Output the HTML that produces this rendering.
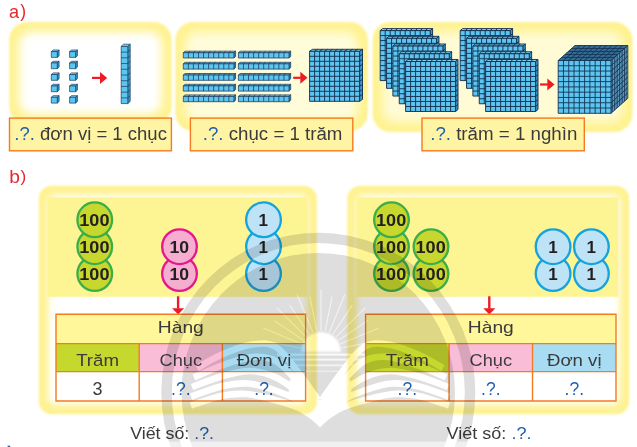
<!DOCTYPE html>
<html lang="vi"><head><meta charset="utf-8"><title>a) b)</title>
<style>html,body{margin:0;padding:0;background:#fff}body{width:637px;height:447px;overflow:hidden}svg{display:block}text{font-family:"Liberation Sans",sans-serif}</style></head><body>
<svg width="637" height="447" viewBox="0 0 637 447">
<defs>
<filter id="b1" x="-10%" y="-10%" width="120%" height="120%"><feGaussianBlur stdDeviation="1.3"/></filter>
<filter id="b2" x="-20%" y="-20%" width="140%" height="140%"><feGaussianBlur stdDeviation="2.2"/></filter>
<filter id="b3" x="-20%" y="-20%" width="140%" height="140%"><feGaussianBlur stdDeviation="3.3"/></filter>
<filter id="b6" x="-30%" y="-30%" width="160%" height="160%"><feGaussianBlur stdDeviation="7"/></filter>
<filter id="b5" x="-30%" y="-30%" width="160%" height="160%"><feGaussianBlur stdDeviation="5"/></filter>
<filter id="b4" x="-30%" y="-30%" width="160%" height="160%"><feGaussianBlur stdDeviation="4"/></filter>
</defs>
<rect width="637" height="447" fill="#fff"/>
<text x="9" y="18.3" font-size="18.2" fill="#e8262d">a</text><text x="20.2" y="17.3" font-size="17.5" fill="#e8262d">)</text>
<rect x="9.2" y="22" width="162.4" height="102" rx="18" fill="#fff290" filter="url(#b1)"/>
<rect x="19.2" y="32" width="142.4" height="82" rx="12" fill="#ffffff" filter="url(#b5)"/>
<rect x="175.4" y="22" width="192.4" height="109" rx="18" fill="#fff290" filter="url(#b1)"/>
<rect x="185.4" y="32" width="172.4" height="89" rx="12" fill="#fffcda" filter="url(#b5)"/>
<rect x="372.6" y="22" width="259.8" height="110" rx="18" fill="#fff290" filter="url(#b1)"/>
<rect x="382.6" y="32" width="239.8" height="90" rx="12" fill="#fffbd4" filter="url(#b5)"/>
<g stroke="#19395c" stroke-width="0.7" stroke-linejoin="round"><path d="M51.3 51.6 l1.8 -1.6 h6 l-1.8 1.6 z" fill="#8dd8f6"/><path d="M57.3 51.6 l1.8 -1.6 v5.8 l-1.8 1.6 z" fill="#3a9fd0"/><rect x="51.3" y="51.6" width="6" height="5.8" fill="#5cc6f1"/></g>
<g stroke="#19395c" stroke-width="0.7" stroke-linejoin="round"><path d="M51.3 62.9 l1.8 -1.6 h6 l-1.8 1.6 z" fill="#8dd8f6"/><path d="M57.3 62.9 l1.8 -1.6 v5.8 l-1.8 1.6 z" fill="#3a9fd0"/><rect x="51.3" y="62.9" width="6" height="5.8" fill="#5cc6f1"/></g>
<g stroke="#19395c" stroke-width="0.7" stroke-linejoin="round"><path d="M51.3 74.5 l1.8 -1.6 h6 l-1.8 1.6 z" fill="#8dd8f6"/><path d="M57.3 74.5 l1.8 -1.6 v5.8 l-1.8 1.6 z" fill="#3a9fd0"/><rect x="51.3" y="74.5" width="6" height="5.8" fill="#5cc6f1"/></g>
<g stroke="#19395c" stroke-width="0.7" stroke-linejoin="round"><path d="M51.3 85.9 l1.8 -1.6 h6 l-1.8 1.6 z" fill="#8dd8f6"/><path d="M57.3 85.9 l1.8 -1.6 v5.8 l-1.8 1.6 z" fill="#3a9fd0"/><rect x="51.3" y="85.9" width="6" height="5.8" fill="#5cc6f1"/></g>
<g stroke="#19395c" stroke-width="0.7" stroke-linejoin="round"><path d="M51.3 97.3 l1.8 -1.6 h6 l-1.8 1.6 z" fill="#8dd8f6"/><path d="M57.3 97.3 l1.8 -1.6 v5.8 l-1.8 1.6 z" fill="#3a9fd0"/><rect x="51.3" y="97.3" width="6" height="5.8" fill="#5cc6f1"/></g>
<g stroke="#19395c" stroke-width="0.7" stroke-linejoin="round"><path d="M69.6 51.6 l1.8 -1.6 h6 l-1.8 1.6 z" fill="#8dd8f6"/><path d="M75.6 51.6 l1.8 -1.6 v5.8 l-1.8 1.6 z" fill="#3a9fd0"/><rect x="69.6" y="51.6" width="6" height="5.8" fill="#5cc6f1"/></g>
<g stroke="#19395c" stroke-width="0.7" stroke-linejoin="round"><path d="M69.6 62.9 l1.8 -1.6 h6 l-1.8 1.6 z" fill="#8dd8f6"/><path d="M75.6 62.9 l1.8 -1.6 v5.8 l-1.8 1.6 z" fill="#3a9fd0"/><rect x="69.6" y="62.9" width="6" height="5.8" fill="#5cc6f1"/></g>
<g stroke="#19395c" stroke-width="0.7" stroke-linejoin="round"><path d="M69.6 74.5 l1.8 -1.6 h6 l-1.8 1.6 z" fill="#8dd8f6"/><path d="M75.6 74.5 l1.8 -1.6 v5.8 l-1.8 1.6 z" fill="#3a9fd0"/><rect x="69.6" y="74.5" width="6" height="5.8" fill="#5cc6f1"/></g>
<g stroke="#19395c" stroke-width="0.7" stroke-linejoin="round"><path d="M69.6 85.9 l1.8 -1.6 h6 l-1.8 1.6 z" fill="#8dd8f6"/><path d="M75.6 85.9 l1.8 -1.6 v5.8 l-1.8 1.6 z" fill="#3a9fd0"/><rect x="69.6" y="85.9" width="6" height="5.8" fill="#5cc6f1"/></g>
<g stroke="#19395c" stroke-width="0.7" stroke-linejoin="round"><path d="M69.6 97.3 l1.8 -1.6 h6 l-1.8 1.6 z" fill="#8dd8f6"/><path d="M75.6 97.3 l1.8 -1.6 v5.8 l-1.8 1.6 z" fill="#3a9fd0"/><rect x="69.6" y="97.3" width="6" height="5.8" fill="#5cc6f1"/></g>
<path d="M92 77.9 H100.5" stroke="#ed1c24" stroke-width="2.2" fill="none"/><path d="M107.2 77.9 L100 71.9 L100 83.9 z" fill="#ed1c24"/>
<g stroke="#19395c" stroke-width="0.7" stroke-linejoin="round"><path d="M121.2 46.4 l2.4 -2.2 h6.6 l-2.4 2.2 z" fill="#8dd8f6"/><path d="M127.8 46.4 l2.4 -2.2 v57.2 l-2.4 2.2 z" fill="#3a9fd0"/><rect x="121.2" y="46.4" width="6.6" height="57.2" fill="#5cc6f1"/><path d="M121.2 52.12 h6.6 l2.4 -2.2M121.2 57.84 h6.6 l2.4 -2.2M121.2 63.56 h6.6 l2.4 -2.2M121.2 69.28 h6.6 l2.4 -2.2M121.2 75 h6.6 l2.4 -2.2M121.2 80.72 h6.6 l2.4 -2.2M121.2 86.44 h6.6 l2.4 -2.2M121.2 92.16 h6.6 l2.4 -2.2M121.2 97.88 h6.6 l2.4 -2.2" fill="none"/></g>
<g stroke="#19395c" stroke-width="0.75" stroke-linejoin="round"><path d="M183.3 52.7 l1.7 -1.5 h50.6 l-1.7 1.5 z" fill="#8dd8f6"/><path d="M233.9 52.7 l1.7 -1.5 v5.3 l-1.7 1.5 z" fill="#3a9fd0"/><rect x="183.3" y="52.7" width="50.6" height="5.3" fill="#5cc6f1"/><path d="M188.36 58 v-5.3 M188.36 52.7 l1.7 -1.5M193.42 58 v-5.3 M193.42 52.7 l1.7 -1.5M198.48 58 v-5.3 M198.48 52.7 l1.7 -1.5M203.54 58 v-5.3 M203.54 52.7 l1.7 -1.5M208.6 58 v-5.3 M208.6 52.7 l1.7 -1.5M213.66 58 v-5.3 M213.66 52.7 l1.7 -1.5M218.72 58 v-5.3 M218.72 52.7 l1.7 -1.5M223.78 58 v-5.3 M223.78 52.7 l1.7 -1.5M228.84 58 v-5.3 M228.84 52.7 l1.7 -1.5" fill="none"/></g>
<g stroke="#19395c" stroke-width="0.75" stroke-linejoin="round"><path d="M183.3 63.8 l1.7 -1.5 h50.6 l-1.7 1.5 z" fill="#8dd8f6"/><path d="M233.9 63.8 l1.7 -1.5 v5.3 l-1.7 1.5 z" fill="#3a9fd0"/><rect x="183.3" y="63.8" width="50.6" height="5.3" fill="#5cc6f1"/><path d="M188.36 69.1 v-5.3 M188.36 63.8 l1.7 -1.5M193.42 69.1 v-5.3 M193.42 63.8 l1.7 -1.5M198.48 69.1 v-5.3 M198.48 63.8 l1.7 -1.5M203.54 69.1 v-5.3 M203.54 63.8 l1.7 -1.5M208.6 69.1 v-5.3 M208.6 63.8 l1.7 -1.5M213.66 69.1 v-5.3 M213.66 63.8 l1.7 -1.5M218.72 69.1 v-5.3 M218.72 63.8 l1.7 -1.5M223.78 69.1 v-5.3 M223.78 63.8 l1.7 -1.5M228.84 69.1 v-5.3 M228.84 63.8 l1.7 -1.5" fill="none"/></g>
<g stroke="#19395c" stroke-width="0.75" stroke-linejoin="round"><path d="M183.3 75 l1.7 -1.5 h50.6 l-1.7 1.5 z" fill="#8dd8f6"/><path d="M233.9 75 l1.7 -1.5 v5.3 l-1.7 1.5 z" fill="#3a9fd0"/><rect x="183.3" y="75" width="50.6" height="5.3" fill="#5cc6f1"/><path d="M188.36 80.3 v-5.3 M188.36 75 l1.7 -1.5M193.42 80.3 v-5.3 M193.42 75 l1.7 -1.5M198.48 80.3 v-5.3 M198.48 75 l1.7 -1.5M203.54 80.3 v-5.3 M203.54 75 l1.7 -1.5M208.6 80.3 v-5.3 M208.6 75 l1.7 -1.5M213.66 80.3 v-5.3 M213.66 75 l1.7 -1.5M218.72 80.3 v-5.3 M218.72 75 l1.7 -1.5M223.78 80.3 v-5.3 M223.78 75 l1.7 -1.5M228.84 80.3 v-5.3 M228.84 75 l1.7 -1.5" fill="none"/></g>
<g stroke="#19395c" stroke-width="0.75" stroke-linejoin="round"><path d="M183.3 85.8 l1.7 -1.5 h50.6 l-1.7 1.5 z" fill="#8dd8f6"/><path d="M233.9 85.8 l1.7 -1.5 v5.3 l-1.7 1.5 z" fill="#3a9fd0"/><rect x="183.3" y="85.8" width="50.6" height="5.3" fill="#5cc6f1"/><path d="M188.36 91.1 v-5.3 M188.36 85.8 l1.7 -1.5M193.42 91.1 v-5.3 M193.42 85.8 l1.7 -1.5M198.48 91.1 v-5.3 M198.48 85.8 l1.7 -1.5M203.54 91.1 v-5.3 M203.54 85.8 l1.7 -1.5M208.6 91.1 v-5.3 M208.6 85.8 l1.7 -1.5M213.66 91.1 v-5.3 M213.66 85.8 l1.7 -1.5M218.72 91.1 v-5.3 M218.72 85.8 l1.7 -1.5M223.78 91.1 v-5.3 M223.78 85.8 l1.7 -1.5M228.84 91.1 v-5.3 M228.84 85.8 l1.7 -1.5" fill="none"/></g>
<g stroke="#19395c" stroke-width="0.75" stroke-linejoin="round"><path d="M183.3 96.4 l1.7 -1.5 h50.6 l-1.7 1.5 z" fill="#8dd8f6"/><path d="M233.9 96.4 l1.7 -1.5 v5.3 l-1.7 1.5 z" fill="#3a9fd0"/><rect x="183.3" y="96.4" width="50.6" height="5.3" fill="#5cc6f1"/><path d="M188.36 101.7 v-5.3 M188.36 96.4 l1.7 -1.5M193.42 101.7 v-5.3 M193.42 96.4 l1.7 -1.5M198.48 101.7 v-5.3 M198.48 96.4 l1.7 -1.5M203.54 101.7 v-5.3 M203.54 96.4 l1.7 -1.5M208.6 101.7 v-5.3 M208.6 96.4 l1.7 -1.5M213.66 101.7 v-5.3 M213.66 96.4 l1.7 -1.5M218.72 101.7 v-5.3 M218.72 96.4 l1.7 -1.5M223.78 101.7 v-5.3 M223.78 96.4 l1.7 -1.5M228.84 101.7 v-5.3 M228.84 96.4 l1.7 -1.5" fill="none"/></g>
<g stroke="#19395c" stroke-width="0.75" stroke-linejoin="round"><path d="M238.4 52.7 l1.7 -1.5 h50.6 l-1.7 1.5 z" fill="#8dd8f6"/><path d="M289 52.7 l1.7 -1.5 v5.3 l-1.7 1.5 z" fill="#3a9fd0"/><rect x="238.4" y="52.7" width="50.6" height="5.3" fill="#5cc6f1"/><path d="M243.46 58 v-5.3 M243.46 52.7 l1.7 -1.5M248.52 58 v-5.3 M248.52 52.7 l1.7 -1.5M253.58 58 v-5.3 M253.58 52.7 l1.7 -1.5M258.64 58 v-5.3 M258.64 52.7 l1.7 -1.5M263.7 58 v-5.3 M263.7 52.7 l1.7 -1.5M268.76 58 v-5.3 M268.76 52.7 l1.7 -1.5M273.82 58 v-5.3 M273.82 52.7 l1.7 -1.5M278.88 58 v-5.3 M278.88 52.7 l1.7 -1.5M283.94 58 v-5.3 M283.94 52.7 l1.7 -1.5" fill="none"/></g>
<g stroke="#19395c" stroke-width="0.75" stroke-linejoin="round"><path d="M238.4 63.8 l1.7 -1.5 h50.6 l-1.7 1.5 z" fill="#8dd8f6"/><path d="M289 63.8 l1.7 -1.5 v5.3 l-1.7 1.5 z" fill="#3a9fd0"/><rect x="238.4" y="63.8" width="50.6" height="5.3" fill="#5cc6f1"/><path d="M243.46 69.1 v-5.3 M243.46 63.8 l1.7 -1.5M248.52 69.1 v-5.3 M248.52 63.8 l1.7 -1.5M253.58 69.1 v-5.3 M253.58 63.8 l1.7 -1.5M258.64 69.1 v-5.3 M258.64 63.8 l1.7 -1.5M263.7 69.1 v-5.3 M263.7 63.8 l1.7 -1.5M268.76 69.1 v-5.3 M268.76 63.8 l1.7 -1.5M273.82 69.1 v-5.3 M273.82 63.8 l1.7 -1.5M278.88 69.1 v-5.3 M278.88 63.8 l1.7 -1.5M283.94 69.1 v-5.3 M283.94 63.8 l1.7 -1.5" fill="none"/></g>
<g stroke="#19395c" stroke-width="0.75" stroke-linejoin="round"><path d="M238.4 75 l1.7 -1.5 h50.6 l-1.7 1.5 z" fill="#8dd8f6"/><path d="M289 75 l1.7 -1.5 v5.3 l-1.7 1.5 z" fill="#3a9fd0"/><rect x="238.4" y="75" width="50.6" height="5.3" fill="#5cc6f1"/><path d="M243.46 80.3 v-5.3 M243.46 75 l1.7 -1.5M248.52 80.3 v-5.3 M248.52 75 l1.7 -1.5M253.58 80.3 v-5.3 M253.58 75 l1.7 -1.5M258.64 80.3 v-5.3 M258.64 75 l1.7 -1.5M263.7 80.3 v-5.3 M263.7 75 l1.7 -1.5M268.76 80.3 v-5.3 M268.76 75 l1.7 -1.5M273.82 80.3 v-5.3 M273.82 75 l1.7 -1.5M278.88 80.3 v-5.3 M278.88 75 l1.7 -1.5M283.94 80.3 v-5.3 M283.94 75 l1.7 -1.5" fill="none"/></g>
<g stroke="#19395c" stroke-width="0.75" stroke-linejoin="round"><path d="M238.4 85.8 l1.7 -1.5 h50.6 l-1.7 1.5 z" fill="#8dd8f6"/><path d="M289 85.8 l1.7 -1.5 v5.3 l-1.7 1.5 z" fill="#3a9fd0"/><rect x="238.4" y="85.8" width="50.6" height="5.3" fill="#5cc6f1"/><path d="M243.46 91.1 v-5.3 M243.46 85.8 l1.7 -1.5M248.52 91.1 v-5.3 M248.52 85.8 l1.7 -1.5M253.58 91.1 v-5.3 M253.58 85.8 l1.7 -1.5M258.64 91.1 v-5.3 M258.64 85.8 l1.7 -1.5M263.7 91.1 v-5.3 M263.7 85.8 l1.7 -1.5M268.76 91.1 v-5.3 M268.76 85.8 l1.7 -1.5M273.82 91.1 v-5.3 M273.82 85.8 l1.7 -1.5M278.88 91.1 v-5.3 M278.88 85.8 l1.7 -1.5M283.94 91.1 v-5.3 M283.94 85.8 l1.7 -1.5" fill="none"/></g>
<g stroke="#19395c" stroke-width="0.75" stroke-linejoin="round"><path d="M238.4 96.4 l1.7 -1.5 h50.6 l-1.7 1.5 z" fill="#8dd8f6"/><path d="M289 96.4 l1.7 -1.5 v5.3 l-1.7 1.5 z" fill="#3a9fd0"/><rect x="238.4" y="96.4" width="50.6" height="5.3" fill="#5cc6f1"/><path d="M243.46 101.7 v-5.3 M243.46 96.4 l1.7 -1.5M248.52 101.7 v-5.3 M248.52 96.4 l1.7 -1.5M253.58 101.7 v-5.3 M253.58 96.4 l1.7 -1.5M258.64 101.7 v-5.3 M258.64 96.4 l1.7 -1.5M263.7 101.7 v-5.3 M263.7 96.4 l1.7 -1.5M268.76 101.7 v-5.3 M268.76 96.4 l1.7 -1.5M273.82 101.7 v-5.3 M273.82 96.4 l1.7 -1.5M278.88 101.7 v-5.3 M278.88 96.4 l1.7 -1.5M283.94 101.7 v-5.3 M283.94 96.4 l1.7 -1.5" fill="none"/></g>
<path d="M293.2 77.8 H300.8" stroke="#ed1c24" stroke-width="2.2" fill="none"/><path d="M307.5 77.8 L300.3 71.8 L300.3 83.8 z" fill="#ed1c24"/>
<g stroke="#153252" stroke-width="0.95" stroke-linejoin="round"><path d="M309.6 51.3 l2.9 -2 h50 l-2.9 2 z" fill="#8dd8f6"/><path d="M359.6 51.3 l2.9 -2 v50 l-2.9 2 z" fill="#3a9fd0"/><rect x="309.6" y="51.3" width="50" height="50" fill="#5cc6f1"/><path d="M314.6 101.3 v-50 l2.9 -2M309.6 56.3 h50 l2.9 -2M319.6 101.3 v-50 l2.9 -2M309.6 61.3 h50 l2.9 -2M324.6 101.3 v-50 l2.9 -2M309.6 66.3 h50 l2.9 -2M329.6 101.3 v-50 l2.9 -2M309.6 71.3 h50 l2.9 -2M334.6 101.3 v-50 l2.9 -2M309.6 76.3 h50 l2.9 -2M339.6 101.3 v-50 l2.9 -2M309.6 81.3 h50 l2.9 -2M344.6 101.3 v-50 l2.9 -2M309.6 86.3 h50 l2.9 -2M349.6 101.3 v-50 l2.9 -2M309.6 91.3 h50 l2.9 -2M354.6 101.3 v-50 l2.9 -2M309.6 96.3 h50 l2.9 -2" fill="none"/></g>
<g stroke="#153252" stroke-width="0.95" stroke-linejoin="round"><path d="M380.2 30.6 l2.4 -2 h50 l-2.4 2 z" fill="#8dd8f6"/><path d="M430.2 30.6 l2.4 -2 v50 l-2.4 2 z" fill="#3a9fd0"/><rect x="380.2" y="30.6" width="50" height="50" fill="#5cc6f1"/><path d="M385.2 80.6 v-50 l2.4 -2M380.2 35.6 h50 l2.4 -2M390.2 80.6 v-50 l2.4 -2M380.2 40.6 h50 l2.4 -2M395.2 80.6 v-50 l2.4 -2M380.2 45.6 h50 l2.4 -2M400.2 80.6 v-50 l2.4 -2M380.2 50.6 h50 l2.4 -2M405.2 80.6 v-50 l2.4 -2M380.2 55.6 h50 l2.4 -2M410.2 80.6 v-50 l2.4 -2M380.2 60.6 h50 l2.4 -2M415.2 80.6 v-50 l2.4 -2M380.2 65.6 h50 l2.4 -2M420.2 80.6 v-50 l2.4 -2M380.2 70.6 h50 l2.4 -2M425.2 80.6 v-50 l2.4 -2M380.2 75.6 h50 l2.4 -2" fill="none"/></g>
<g stroke="#153252" stroke-width="0.95" stroke-linejoin="round"><path d="M386.55 38.32 l2.4 -2 h50 l-2.4 2 z" fill="#8dd8f6"/><path d="M436.55 38.32 l2.4 -2 v50 l-2.4 2 z" fill="#3a9fd0"/><rect x="386.55" y="38.32" width="50" height="50" fill="#5cc6f1"/><path d="M391.55 88.32 v-50 l2.4 -2M386.55 43.32 h50 l2.4 -2M396.55 88.32 v-50 l2.4 -2M386.55 48.32 h50 l2.4 -2M401.55 88.32 v-50 l2.4 -2M386.55 53.32 h50 l2.4 -2M406.55 88.32 v-50 l2.4 -2M386.55 58.32 h50 l2.4 -2M411.55 88.32 v-50 l2.4 -2M386.55 63.32 h50 l2.4 -2M416.55 88.32 v-50 l2.4 -2M386.55 68.32 h50 l2.4 -2M421.55 88.32 v-50 l2.4 -2M386.55 73.32 h50 l2.4 -2M426.55 88.32 v-50 l2.4 -2M386.55 78.32 h50 l2.4 -2M431.55 88.32 v-50 l2.4 -2M386.55 83.32 h50 l2.4 -2" fill="none"/></g>
<g stroke="#153252" stroke-width="0.95" stroke-linejoin="round"><path d="M392.9 46.04 l2.4 -2 h50 l-2.4 2 z" fill="#8dd8f6"/><path d="M442.9 46.04 l2.4 -2 v50 l-2.4 2 z" fill="#3a9fd0"/><rect x="392.9" y="46.04" width="50" height="50" fill="#5cc6f1"/><path d="M397.9 96.04 v-50 l2.4 -2M392.9 51.04 h50 l2.4 -2M402.9 96.04 v-50 l2.4 -2M392.9 56.04 h50 l2.4 -2M407.9 96.04 v-50 l2.4 -2M392.9 61.04 h50 l2.4 -2M412.9 96.04 v-50 l2.4 -2M392.9 66.04 h50 l2.4 -2M417.9 96.04 v-50 l2.4 -2M392.9 71.04 h50 l2.4 -2M422.9 96.04 v-50 l2.4 -2M392.9 76.04 h50 l2.4 -2M427.9 96.04 v-50 l2.4 -2M392.9 81.04 h50 l2.4 -2M432.9 96.04 v-50 l2.4 -2M392.9 86.04 h50 l2.4 -2M437.9 96.04 v-50 l2.4 -2M392.9 91.04 h50 l2.4 -2" fill="none"/></g>
<g stroke="#153252" stroke-width="0.95" stroke-linejoin="round"><path d="M399.25 53.76 l2.4 -2 h50 l-2.4 2 z" fill="#8dd8f6"/><path d="M449.25 53.76 l2.4 -2 v50 l-2.4 2 z" fill="#3a9fd0"/><rect x="399.25" y="53.76" width="50" height="50" fill="#5cc6f1"/><path d="M404.25 103.76 v-50 l2.4 -2M399.25 58.76 h50 l2.4 -2M409.25 103.76 v-50 l2.4 -2M399.25 63.76 h50 l2.4 -2M414.25 103.76 v-50 l2.4 -2M399.25 68.76 h50 l2.4 -2M419.25 103.76 v-50 l2.4 -2M399.25 73.76 h50 l2.4 -2M424.25 103.76 v-50 l2.4 -2M399.25 78.76 h50 l2.4 -2M429.25 103.76 v-50 l2.4 -2M399.25 83.76 h50 l2.4 -2M434.25 103.76 v-50 l2.4 -2M399.25 88.76 h50 l2.4 -2M439.25 103.76 v-50 l2.4 -2M399.25 93.76 h50 l2.4 -2M444.25 103.76 v-50 l2.4 -2M399.25 98.76 h50 l2.4 -2" fill="none"/></g>
<g stroke="#153252" stroke-width="0.95" stroke-linejoin="round"><path d="M405.6 61.48 l2.4 -2 h50 l-2.4 2 z" fill="#8dd8f6"/><path d="M455.6 61.48 l2.4 -2 v50 l-2.4 2 z" fill="#3a9fd0"/><rect x="405.6" y="61.48" width="50" height="50" fill="#5cc6f1"/><path d="M410.6 111.48 v-50 l2.4 -2M405.6 66.48 h50 l2.4 -2M415.6 111.48 v-50 l2.4 -2M405.6 71.48 h50 l2.4 -2M420.6 111.48 v-50 l2.4 -2M405.6 76.48 h50 l2.4 -2M425.6 111.48 v-50 l2.4 -2M405.6 81.48 h50 l2.4 -2M430.6 111.48 v-50 l2.4 -2M405.6 86.48 h50 l2.4 -2M435.6 111.48 v-50 l2.4 -2M405.6 91.48 h50 l2.4 -2M440.6 111.48 v-50 l2.4 -2M405.6 96.48 h50 l2.4 -2M445.6 111.48 v-50 l2.4 -2M405.6 101.48 h50 l2.4 -2M450.6 111.48 v-50 l2.4 -2M405.6 106.48 h50 l2.4 -2" fill="none"/></g>
<g stroke="#153252" stroke-width="0.95" stroke-linejoin="round"><path d="M460.2 30.6 l2.4 -2 h50 l-2.4 2 z" fill="#8dd8f6"/><path d="M510.2 30.6 l2.4 -2 v50 l-2.4 2 z" fill="#3a9fd0"/><rect x="460.2" y="30.6" width="50" height="50" fill="#5cc6f1"/><path d="M465.2 80.6 v-50 l2.4 -2M460.2 35.6 h50 l2.4 -2M470.2 80.6 v-50 l2.4 -2M460.2 40.6 h50 l2.4 -2M475.2 80.6 v-50 l2.4 -2M460.2 45.6 h50 l2.4 -2M480.2 80.6 v-50 l2.4 -2M460.2 50.6 h50 l2.4 -2M485.2 80.6 v-50 l2.4 -2M460.2 55.6 h50 l2.4 -2M490.2 80.6 v-50 l2.4 -2M460.2 60.6 h50 l2.4 -2M495.2 80.6 v-50 l2.4 -2M460.2 65.6 h50 l2.4 -2M500.2 80.6 v-50 l2.4 -2M460.2 70.6 h50 l2.4 -2M505.2 80.6 v-50 l2.4 -2M460.2 75.6 h50 l2.4 -2" fill="none"/></g>
<g stroke="#153252" stroke-width="0.95" stroke-linejoin="round"><path d="M466.55 38.32 l2.4 -2 h50 l-2.4 2 z" fill="#8dd8f6"/><path d="M516.55 38.32 l2.4 -2 v50 l-2.4 2 z" fill="#3a9fd0"/><rect x="466.55" y="38.32" width="50" height="50" fill="#5cc6f1"/><path d="M471.55 88.32 v-50 l2.4 -2M466.55 43.32 h50 l2.4 -2M476.55 88.32 v-50 l2.4 -2M466.55 48.32 h50 l2.4 -2M481.55 88.32 v-50 l2.4 -2M466.55 53.32 h50 l2.4 -2M486.55 88.32 v-50 l2.4 -2M466.55 58.32 h50 l2.4 -2M491.55 88.32 v-50 l2.4 -2M466.55 63.32 h50 l2.4 -2M496.55 88.32 v-50 l2.4 -2M466.55 68.32 h50 l2.4 -2M501.55 88.32 v-50 l2.4 -2M466.55 73.32 h50 l2.4 -2M506.55 88.32 v-50 l2.4 -2M466.55 78.32 h50 l2.4 -2M511.55 88.32 v-50 l2.4 -2M466.55 83.32 h50 l2.4 -2" fill="none"/></g>
<g stroke="#153252" stroke-width="0.95" stroke-linejoin="round"><path d="M472.9 46.04 l2.4 -2 h50 l-2.4 2 z" fill="#8dd8f6"/><path d="M522.9 46.04 l2.4 -2 v50 l-2.4 2 z" fill="#3a9fd0"/><rect x="472.9" y="46.04" width="50" height="50" fill="#5cc6f1"/><path d="M477.9 96.04 v-50 l2.4 -2M472.9 51.04 h50 l2.4 -2M482.9 96.04 v-50 l2.4 -2M472.9 56.04 h50 l2.4 -2M487.9 96.04 v-50 l2.4 -2M472.9 61.04 h50 l2.4 -2M492.9 96.04 v-50 l2.4 -2M472.9 66.04 h50 l2.4 -2M497.9 96.04 v-50 l2.4 -2M472.9 71.04 h50 l2.4 -2M502.9 96.04 v-50 l2.4 -2M472.9 76.04 h50 l2.4 -2M507.9 96.04 v-50 l2.4 -2M472.9 81.04 h50 l2.4 -2M512.9 96.04 v-50 l2.4 -2M472.9 86.04 h50 l2.4 -2M517.9 96.04 v-50 l2.4 -2M472.9 91.04 h50 l2.4 -2" fill="none"/></g>
<g stroke="#153252" stroke-width="0.95" stroke-linejoin="round"><path d="M479.25 53.76 l2.4 -2 h50 l-2.4 2 z" fill="#8dd8f6"/><path d="M529.25 53.76 l2.4 -2 v50 l-2.4 2 z" fill="#3a9fd0"/><rect x="479.25" y="53.76" width="50" height="50" fill="#5cc6f1"/><path d="M484.25 103.76 v-50 l2.4 -2M479.25 58.76 h50 l2.4 -2M489.25 103.76 v-50 l2.4 -2M479.25 63.76 h50 l2.4 -2M494.25 103.76 v-50 l2.4 -2M479.25 68.76 h50 l2.4 -2M499.25 103.76 v-50 l2.4 -2M479.25 73.76 h50 l2.4 -2M504.25 103.76 v-50 l2.4 -2M479.25 78.76 h50 l2.4 -2M509.25 103.76 v-50 l2.4 -2M479.25 83.76 h50 l2.4 -2M514.25 103.76 v-50 l2.4 -2M479.25 88.76 h50 l2.4 -2M519.25 103.76 v-50 l2.4 -2M479.25 93.76 h50 l2.4 -2M524.25 103.76 v-50 l2.4 -2M479.25 98.76 h50 l2.4 -2" fill="none"/></g>
<g stroke="#153252" stroke-width="0.95" stroke-linejoin="round"><path d="M485.6 61.48 l2.4 -2 h50 l-2.4 2 z" fill="#8dd8f6"/><path d="M535.6 61.48 l2.4 -2 v50 l-2.4 2 z" fill="#3a9fd0"/><rect x="485.6" y="61.48" width="50" height="50" fill="#5cc6f1"/><path d="M490.6 111.48 v-50 l2.4 -2M485.6 66.48 h50 l2.4 -2M495.6 111.48 v-50 l2.4 -2M485.6 71.48 h50 l2.4 -2M500.6 111.48 v-50 l2.4 -2M485.6 76.48 h50 l2.4 -2M505.6 111.48 v-50 l2.4 -2M485.6 81.48 h50 l2.4 -2M510.6 111.48 v-50 l2.4 -2M485.6 86.48 h50 l2.4 -2M515.6 111.48 v-50 l2.4 -2M485.6 91.48 h50 l2.4 -2M520.6 111.48 v-50 l2.4 -2M485.6 96.48 h50 l2.4 -2M525.6 111.48 v-50 l2.4 -2M485.6 101.48 h50 l2.4 -2M530.6 111.48 v-50 l2.4 -2M485.6 106.48 h50 l2.4 -2" fill="none"/></g>
<path d="M540 84.5 H547.8" stroke="#ed1c24" stroke-width="2.2" fill="none"/><path d="M554.5 84.5 L547.3 78.5 L547.3 90.5 z" fill="#ed1c24"/>
<g stroke="#153252" stroke-width="0.9" stroke-linejoin="round"><path d="M558.2 60.5 l16.8 -15 h52.8 l-16.8 15 z" fill="#4a9ccb"/><path d="M611 60.5 l16.8 -15 v52.8 l-16.8 15 z" fill="#74c0e4"/><rect x="558.2" y="60.5" width="52.8" height="52.8" fill="#5cc6f1"/><path d="M563.48 113.3 v-52.8 l16.8 -15M558.2 65.78 h52.8 l16.8 -15M559.88 59 h52.8 v52.8M568.76 113.3 v-52.8 l16.8 -15M558.2 71.06 h52.8 l16.8 -15M561.56 57.5 h52.8 v52.8M574.04 113.3 v-52.8 l16.8 -15M558.2 76.34 h52.8 l16.8 -15M563.24 56 h52.8 v52.8M579.32 113.3 v-52.8 l16.8 -15M558.2 81.62 h52.8 l16.8 -15M564.92 54.5 h52.8 v52.8M584.6 113.3 v-52.8 l16.8 -15M558.2 86.9 h52.8 l16.8 -15M566.6 53 h52.8 v52.8M589.88 113.3 v-52.8 l16.8 -15M558.2 92.18 h52.8 l16.8 -15M568.28 51.5 h52.8 v52.8M595.16 113.3 v-52.8 l16.8 -15M558.2 97.46 h52.8 l16.8 -15M569.96 50 h52.8 v52.8M600.44 113.3 v-52.8 l16.8 -15M558.2 102.74 h52.8 l16.8 -15M571.64 48.5 h52.8 v52.8M605.72 113.3 v-52.8 l16.8 -15M558.2 108.02 h52.8 l16.8 -15M573.32 47 h52.8 v52.8" fill="none"/></g>
<rect x="9.5" y="118.1" width="161.9" height="32.7" fill="#fff4a3" stroke="#f47b20" stroke-width="1.4"/>
<text x="14.3" y="140.1" font-size="18" fill="#3b3b3b" textLength="152.6" lengthAdjust="spacingAndGlyphs"><tspan fill="#1f5fae">.?.</tspan> đơn vị = 1 chục</text>
<rect x="190.4" y="118.1" width="162.4" height="32.7" fill="#fff4a3" stroke="#f47b20" stroke-width="1.4"/>
<text x="202.8" y="140.1" font-size="18" fill="#3b3b3b" textLength="139.6" lengthAdjust="spacingAndGlyphs"><tspan fill="#1f5fae">.?.</tspan> chục = 1 trăm</text>
<rect x="422" y="118.1" width="162.3" height="32.7" fill="#fff4a3" stroke="#f47b20" stroke-width="1.4"/>
<text x="430.2" y="140.1" font-size="18" fill="#3b3b3b" textLength="147.1" lengthAdjust="spacingAndGlyphs"><tspan fill="#1f5fae">.?.</tspan> trăm = 1 nghìn</text>
<text x="9.2" y="183" font-size="19.2" fill="#e8262d">b</text><text x="20.6" y="182" font-size="17.2" fill="#e8262d">)</text>
<rect x="38.8" y="185.7" width="278" height="228.5" rx="13" fill="#fef292" filter="url(#b1)"/>
<rect x="48.4" y="195.3" width="258.8" height="209.3" rx="7" fill="#fff" filter="url(#b3)"/>
<rect x="47.5" y="197.3" width="260.3" height="99.5" fill="#fdf494"/>
<rect x="347.3" y="185.7" width="281.9" height="228.5" rx="13" fill="#fef292" filter="url(#b1)"/>
<rect x="356.9" y="195.3" width="262.7" height="209.3" rx="7" fill="#fff" filter="url(#b3)"/>
<rect x="356.4" y="197.3" width="261.8" height="99.5" fill="#fdf494"/>
<circle cx="94.75" cy="273.6" r="17.35" fill="#c7d72d" stroke="#3cae49" stroke-width="2.3"/><text x="94.35" y="279.69" text-anchor="middle" font-weight="bold" font-size="17" fill="#231f20" textLength="30.2" lengthAdjust="spacingAndGlyphs">100</text>
<circle cx="94.75" cy="246.7" r="17.35" fill="#c7d72d" stroke="#3cae49" stroke-width="2.3"/><text x="94.35" y="252.79" text-anchor="middle" font-weight="bold" font-size="17" fill="#231f20" textLength="30.2" lengthAdjust="spacingAndGlyphs">100</text>
<circle cx="94.75" cy="219.8" r="17.35" fill="#c7d72d" stroke="#3cae49" stroke-width="2.3"/><text x="94.35" y="225.89" text-anchor="middle" font-weight="bold" font-size="17" fill="#231f20" textLength="30.2" lengthAdjust="spacingAndGlyphs">100</text>
<circle cx="179.5" cy="273.6" r="17.35" fill="#f5aed0" stroke="#e5178c" stroke-width="2.3"/><text x="179.2" y="279.69" text-anchor="middle" font-weight="bold" font-size="17" fill="#231f20" textLength="19.6" lengthAdjust="spacingAndGlyphs">10</text>
<circle cx="179.5" cy="246.7" r="17.35" fill="#f5aed0" stroke="#e5178c" stroke-width="2.3"/><text x="179.2" y="252.79" text-anchor="middle" font-weight="bold" font-size="17" fill="#231f20" textLength="19.6" lengthAdjust="spacingAndGlyphs">10</text>
<circle cx="263.5" cy="273.6" r="17.35" fill="#bfe3f6" stroke="#14a3dc" stroke-width="2.3"/><text x="263.3" y="279.69" text-anchor="middle" font-weight="bold" font-size="17" fill="#231f20">1</text>
<circle cx="263.5" cy="246.7" r="17.35" fill="#bfe3f6" stroke="#14a3dc" stroke-width="2.3"/><text x="263.3" y="252.79" text-anchor="middle" font-weight="bold" font-size="17" fill="#231f20">1</text>
<circle cx="263.5" cy="219.8" r="17.35" fill="#bfe3f6" stroke="#14a3dc" stroke-width="2.3"/><text x="263.3" y="225.89" text-anchor="middle" font-weight="bold" font-size="17" fill="#231f20">1</text>
<circle cx="391.5" cy="273.6" r="17.35" fill="#c7d72d" stroke="#3cae49" stroke-width="2.3"/><text x="391.1" y="279.69" text-anchor="middle" font-weight="bold" font-size="17" fill="#231f20" textLength="30.2" lengthAdjust="spacingAndGlyphs">100</text>
<circle cx="391.5" cy="246.7" r="17.35" fill="#c7d72d" stroke="#3cae49" stroke-width="2.3"/><text x="391.1" y="252.79" text-anchor="middle" font-weight="bold" font-size="17" fill="#231f20" textLength="30.2" lengthAdjust="spacingAndGlyphs">100</text>
<circle cx="391.5" cy="219.8" r="17.35" fill="#c7d72d" stroke="#3cae49" stroke-width="2.3"/><text x="391.1" y="225.89" text-anchor="middle" font-weight="bold" font-size="17" fill="#231f20" textLength="30.2" lengthAdjust="spacingAndGlyphs">100</text>
<circle cx="431" cy="273.6" r="17.35" fill="#c7d72d" stroke="#3cae49" stroke-width="2.3"/><text x="430.6" y="279.69" text-anchor="middle" font-weight="bold" font-size="17" fill="#231f20" textLength="30.2" lengthAdjust="spacingAndGlyphs">100</text>
<circle cx="431" cy="246.7" r="17.35" fill="#c7d72d" stroke="#3cae49" stroke-width="2.3"/><text x="430.6" y="252.79" text-anchor="middle" font-weight="bold" font-size="17" fill="#231f20" textLength="30.2" lengthAdjust="spacingAndGlyphs">100</text>
<circle cx="553.1" cy="273.6" r="17.35" fill="#bfe3f6" stroke="#14a3dc" stroke-width="2.3"/><text x="552.9" y="279.69" text-anchor="middle" font-weight="bold" font-size="17" fill="#231f20">1</text>
<circle cx="553.1" cy="246.7" r="17.35" fill="#bfe3f6" stroke="#14a3dc" stroke-width="2.3"/><text x="552.9" y="252.79" text-anchor="middle" font-weight="bold" font-size="17" fill="#231f20">1</text>
<circle cx="591.4" cy="273.6" r="17.35" fill="#bfe3f6" stroke="#14a3dc" stroke-width="2.3"/><text x="591.2" y="279.69" text-anchor="middle" font-weight="bold" font-size="17" fill="#231f20">1</text>
<circle cx="591.4" cy="246.7" r="17.35" fill="#bfe3f6" stroke="#14a3dc" stroke-width="2.3"/><text x="591.2" y="252.79" text-anchor="middle" font-weight="bold" font-size="17" fill="#231f20">1</text>
<path d="M178.1 296.3 V308.7" stroke="#ed1c24" stroke-width="2.4" fill="none"/><path d="M178.1 314.5 L172.1 308.2 L184.1 308.2 z" fill="#ed1c24"/>
<path d="M489.3 296.3 V308.7" stroke="#ed1c24" stroke-width="2.4" fill="none"/><path d="M489.3 314.5 L483.3 308.2 L495.3 308.2 z" fill="#ed1c24"/>
<rect x="56" y="314.2" width="249.6" height="29.4" fill="#fff799"/>
<rect x="56" y="343.6" width="83.2" height="28" fill="#c5d82d"/>
<rect x="139.2" y="343.6" width="83.2" height="28" fill="#f9bdd7"/>
<rect x="222.4" y="343.6" width="83.2" height="28" fill="#a8dcf3"/>
<rect x="56" y="371.6" width="249.6" height="29.4" fill="#fff"/>
<path d="M56 314.2 H305.6 V401 H56 zM56 343.6 H305.6 M56 371.6 H305.6M139.2 343.6 V401 M222.4 343.6 V401" fill="none" stroke="#f47b20" stroke-width="1.4"/>
<text x="180.8" y="333.3" text-anchor="middle" font-size="16.6" fill="#3b3b3b" textLength="46" lengthAdjust="spacingAndGlyphs">Hàng</text>
<text x="97.6" y="366" text-anchor="middle" font-size="16.8" fill="#3b3b3b" textLength="42.9" lengthAdjust="spacingAndGlyphs">Trăm</text>
<text x="180.8" y="366" text-anchor="middle" font-size="16.8" fill="#3b3b3b" textLength="42.4" lengthAdjust="spacingAndGlyphs">Chục</text>
<text x="264" y="366" text-anchor="middle" font-size="16.8" fill="#3b3b3b" textLength="54.6" lengthAdjust="spacingAndGlyphs">Đơn vị</text>
<text x="97.6" y="395.2" text-anchor="middle" font-size="18" fill="#3b3b3b">3</text>
<text x="180.8" y="395.2" text-anchor="middle" font-size="17.5" fill="#1f5fae">.?.</text>
<text x="264" y="395.2" text-anchor="middle" font-size="17.5" fill="#1f5fae">.?.</text>
<rect x="365.6" y="314.2" width="250.4" height="29.4" fill="#fff799"/>
<rect x="365.6" y="343.6" width="83.47" height="28" fill="#c5d82d"/>
<rect x="449.07" y="343.6" width="83.47" height="28" fill="#f9bdd7"/>
<rect x="532.53" y="343.6" width="83.47" height="28" fill="#a8dcf3"/>
<rect x="365.6" y="371.6" width="250.4" height="29.4" fill="#fff"/>
<path d="M365.6 314.2 H616 V401 H365.6 zM365.6 343.6 H616 M365.6 371.6 H616M449.07 343.6 V401 M532.53 343.6 V401" fill="none" stroke="#f47b20" stroke-width="1.4"/>
<text x="490.8" y="333.3" text-anchor="middle" font-size="16.6" fill="#3b3b3b" textLength="46" lengthAdjust="spacingAndGlyphs">Hàng</text>
<text x="407.33" y="366" text-anchor="middle" font-size="16.8" fill="#3b3b3b" textLength="42.9" lengthAdjust="spacingAndGlyphs">Trăm</text>
<text x="490.8" y="366" text-anchor="middle" font-size="16.8" fill="#3b3b3b" textLength="42.4" lengthAdjust="spacingAndGlyphs">Chục</text>
<text x="574.27" y="366" text-anchor="middle" font-size="16.8" fill="#3b3b3b" textLength="54.6" lengthAdjust="spacingAndGlyphs">Đơn vị</text>
<text x="407.33" y="395.2" text-anchor="middle" font-size="17.5" fill="#1f5fae">.?.</text>
<text x="490.8" y="395.2" text-anchor="middle" font-size="17.5" fill="#1f5fae">.?.</text>
<text x="574.27" y="395.2" text-anchor="middle" font-size="17.5" fill="#1f5fae">.?.</text>
<text x="130.2" y="439.4" font-size="17" fill="#3b3b3b" textLength="83.8" lengthAdjust="spacingAndGlyphs">Viết số: <tspan fill="#1f5fae">.?.</tspan></text>
<text x="446.5" y="439.4" font-size="17" fill="#3b3b3b" textLength="85" lengthAdjust="spacingAndGlyphs">Viết số: <tspan fill="#1f5fae">.?.</tspan></text>
<g style="mix-blend-mode:multiply"><ellipse cx="318.3" cy="392.4" rx="157" ry="159.7" fill="#dedede"/><ellipse cx="318.3" cy="392.4" rx="141.6" ry="144.4" fill="none" stroke="#fff" stroke-width="9.8"/><path d="M299.42 347.71 L266.08 341.07M300.67 343.58 L263.72 328.27M302.71 339.78 L274.44 320.89M305.44 336.44 L277.16 308.16M308.78 333.71 L289.89 305.44M312.58 331.67 L297.27 294.72M316.71 330.42 L310.07 297.08M321 330 L321 290M325.29 330.42 L331.93 297.08M329.42 331.67 L344.73 294.72M333.22 333.71 L352.11 305.44M336.56 336.44 L364.84 308.16M339.29 339.78 L367.56 320.89M341.33 343.58 L378.28 328.27M342.58 347.71 L375.92 341.07" stroke="#fff" stroke-width="1.15" fill="none" stroke-linecap="round" opacity="0.6"/><path d="M301 352 a20 20 0 0 1 40 0 z" fill="#fff" filter="url(#b1)"/><rect x="277" y="353.55" width="88" height="2.1" fill="#fff" opacity="0.85"/><rect x="279" y="358.6" width="84" height="2" fill="#fff" opacity="0.75"/><rect x="283" y="364.35" width="76" height="1.9" fill="#fff" opacity="0.6"/><rect x="289" y="370.55" width="64" height="1.5" fill="#fff" opacity="0.45"/><path d="M197 368C201.17 365.75 212.83 358.42 222 354.5C231.17 350.58 243 345.75 252 344.5C261 343.25 268.33 342.42 276 347C283.67 351.58 291 363.17 298 372C305 380.83 314.67 395.33 318 400M443 368C438.83 365.75 427.17 358.42 418 354.5C408.83 350.58 397 345.75 388 344.5C379 343.25 371.67 342.42 364 347C356.33 351.58 349 363.17 342 372C335 380.83 325.33 395.33 322 400M194 377.5C198.67 375.5 212.33 368.92 222 365.5C231.67 362.08 243 357.75 252 357C261 356.25 268.33 356.83 276 361C283.67 365.17 291 374.67 298 382C305 389.33 314.67 401.17 318 405M446 377.5C441.33 375.5 427.67 368.92 418 365.5C408.33 362.08 397 357.75 388 357C379 356.25 371.67 356.83 364 361C356.33 365.17 349 374.67 342 382C335 389.33 325.33 401.17 322 405M192 387C197 385.22 212.33 378.97 222 376.3C231.67 373.63 241.17 370.88 250 371C258.83 371.12 267 373.5 275 377C283 380.5 290.83 386.5 298 392C305.17 397.5 314.67 407 318 410M448 387C443 385.22 427.67 378.97 418 376.3C408.33 373.63 398.83 370.88 390 371C381.17 371.12 373 373.5 365 377C357 380.5 349.17 386.5 342 392C334.83 397.5 325.33 407 322 410M191 396.5C196.17 394.8 212.5 388.47 222 386.3C231.5 384.13 239.5 382.97 248 383.5C256.5 384.03 264.67 386.67 273 389.5C281.33 392.33 290.5 396.25 298 400.5C305.5 404.75 314.67 412.58 318 415M449 396.5C443.83 394.8 427.5 388.47 418 386.3C408.5 384.13 400.5 382.97 392 383.5C383.5 384.03 375.33 386.67 367 389.5C358.67 392.33 349.5 396.25 342 400.5C334.5 404.75 325.33 412.58 322 415M191 405.5C196.17 403.88 212.83 397.72 222 395.8C231.17 393.88 237.83 393.47 246 394C254.17 394.53 262.33 396.75 271 399C279.67 401.25 290.17 404 298 407.5C305.83 411 314.67 417.92 318 420M449 405.5C443.83 403.88 427.17 397.72 418 395.8C408.83 393.88 402.17 393.47 394 394C385.83 394.53 377.67 396.75 369 399C360.33 401.25 349.83 404 342 407.5C334.17 411 325.33 417.92 322 420" stroke="#fff" stroke-width="6.6" fill="none" stroke-linecap="butt"/><path d="M320 400 L290 379 L288 397 L320 427.5 L352 397 L350 379 z" fill="#fff"/></g>
<rect x="0" y="441.6" width="637" height="6" fill="#fff" opacity="0.55"/>
<rect x="7.6" y="445.6" width="2.6" height="1.6" fill="#2b6cb8"/>
</svg></body></html>
